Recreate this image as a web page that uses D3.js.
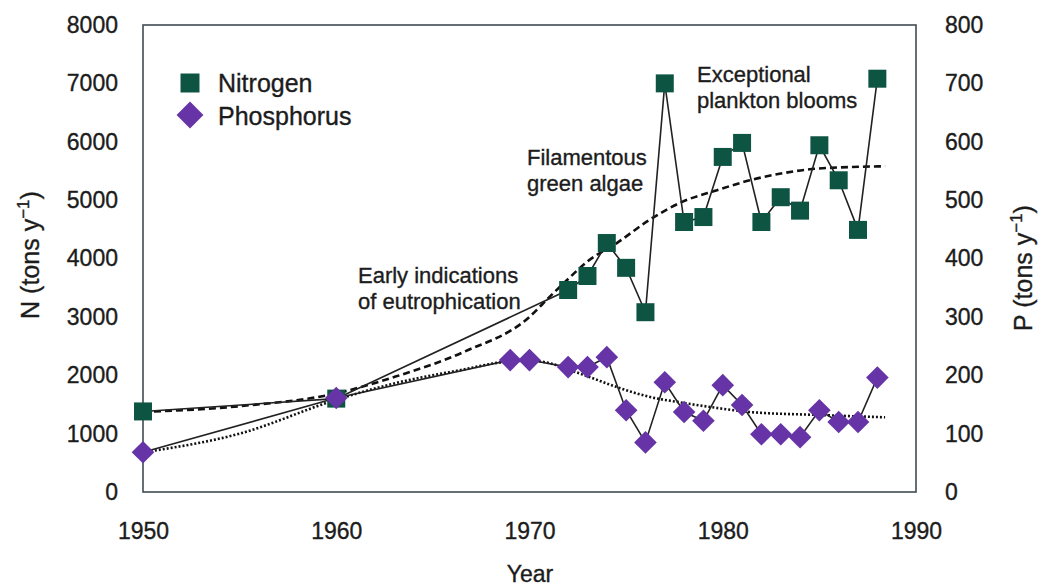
<!DOCTYPE html>
<html>
<head>
<meta charset="utf-8">
<script src="https://cdn.jsdelivr.net/npm/d3@7"></script>
<style>
  body { margin: 0; background: #fff; }
  svg { display: block; font-family: "Liberation Sans", Arial, Helvetica, sans-serif; }
  svg text { fill: #1c1c1c; stroke: #1c1c1c; stroke-width: 0.35px; }
</style>
</head>
<body>
<svg width="1042" height="586"></svg>
<script>
var nYears = [1950, 1960, 1972, 1973, 1974, 1975, 1976, 1977, 1978, 1979, 1980, 1981, 1982, 1983, 1984, 1985, 1986, 1987, 1988];
var nValues = [1380, 1600, 3460, 3700, 4265, 3840, 3080, 7000, 4625, 4710, 5740, 5980, 4625, 5050, 4820, 5940, 5340, 4490, 7080];

var pYears = [1950, 1960, 1969, 1970, 1972, 1973, 1974, 1975, 1976, 1977, 1978, 1979, 1980, 1981, 1982, 1983, 1984, 1985, 1986, 1987, 1988];
var pValues = [68, 161, 226, 226, 214, 214, 231, 140, 85, 188, 137, 122, 183, 149, 99, 99, 94, 140, 120, 120, 196];

// fitted trend curves
var nTrendYears = [1950, 1955, 1960, 1963, 1966.6, 1970, 1971, 1972, 1973, 1974.5, 1976.2, 1977.9, 1979.7, 1981.4, 1983.1, 1984.9, 1988.4];
var nTrendValues = [1370, 1470, 1690, 1970, 2400, 3000, 3330, 3650, 3950, 4260, 4660, 4970, 5170, 5340, 5460, 5540, 5580];

var pTrendYears = [1950, 1955, 1960, 1963, 1966.6, 1968.5, 1970, 1971, 1972, 1973.1, 1974.5, 1976.2, 1977.9, 1979.7, 1981.4, 1984.9, 1988.4];
var pTrendValues = [68, 100, 158, 186, 210, 222, 225, 221, 210, 197, 180, 163, 153, 144, 137, 132, 128];

var xTicks = [1950, 1960, 1970, 1980, 1990];
var nTicks = [0, 1000, 2000, 3000, 4000, 5000, 6000, 7000, 8000];
var pTicks = [0, 100, 200, 300, 400, 500, 600, 700, 800];

var notes = [
  { lines: ["Early indications", "of eutrophication"], x: 358, y: 283 },
  { lines: ["Filamentous", "green algae"], x: 527, y: 165 },
  { lines: ["Exceptional", "plankton blooms"], x: 697, y: 82 }
];

var green = "#0e5443", purple = "#6634a6";

var svg = d3.select("svg"),
    plotL = 143, plotR = 916, plotT = 25, plotB = 492;

var x = d3.scaleLinear().domain([1950, 1990]).range([plotL, plotR]);
var yN = d3.scaleLinear().domain([0, 8000]).range([plotB, plotT]);
var yP = d3.scaleLinear().domain([0, 800]).range([plotB, plotT]);

// frame
svg.append("rect")
    .attr("x", plotL).attr("y", plotT)
    .attr("width", plotR - plotL).attr("height", plotB - plotT)
    .style("fill", "none").style("stroke", "#3f4b52").style("stroke-width", 1.6);

// axes: labels only, no ticks
function styleAxis(g) {
  g.select(".domain").remove();
  g.selectAll("text").style("font-size", "23px")
      .style("font-family", "Liberation Sans, Arial, sans-serif");
}
svg.append("g").attr("transform", "translate(" + plotL + ",0)")
    .call(d3.axisLeft(yN).tickValues(nTicks).tickSize(0).tickPadding(25).tickFormat(d3.format("d")))
    .call(styleAxis);
svg.append("g").attr("transform", "translate(" + plotR + ",0)")
    .call(d3.axisRight(yP).tickValues(pTicks).tickSize(0).tickPadding(29).tickFormat(d3.format("d")))
    .call(styleAxis);
svg.append("g").attr("transform", "translate(0," + plotB + ")")
    .call(d3.axisBottom(x).tickValues(xTicks).tickSize(0).tickPadding(31).tickFormat(d3.format("d")))
    .call(styleAxis);

// axis titles
function axisTitle(label, tx, ty) {
  var t = svg.append("text")
      .attr("transform", "translate(" + tx + "," + ty + ") rotate(-90)")
      .attr("text-anchor", "middle")
      .style("font-size", "25px");
  t.append("tspan").text(label + " (tons y");
  t.append("tspan").attr("dy", "-10").style("font-size", "17px").text("\u22121");
  t.append("tspan").attr("dy", "10").text(")");
}
axisTitle("N", 39, 255);
axisTitle("P", 1032, 268);

svg.append("text").attr("x", 530).attr("y", 582).attr("text-anchor", "middle")
    .style("font-size", "23px").text("Year");

// trend curves
var nTrend = nTrendYears.map(function(d, i) { return [d, nTrendValues[i]]; });
var pTrend = pTrendYears.map(function(d, i) { return [d, pTrendValues[i]]; });

svg.append("path")
    .attr("d", d3.line().curve(d3.curveMonotoneX).x(function(d) { return x(d[0]); }).y(function(d) { return yN(d[1]); })(nTrend))
    .style("fill", "none").style("stroke", "#111").style("stroke-width", 2.6).style("stroke-dasharray", "7,4");
svg.append("path")
    .attr("d", d3.line().curve(d3.curveMonotoneX).x(function(d) { return x(d[0]); }).y(function(d) { return yP(d[1]); })(pTrend))
    .style("fill", "none").style("stroke", "#111").style("stroke-width", 2.6).style("stroke-dasharray", "2,2");

// connecting lines
var nData = nYears.map(function(d, i) { return [d, nValues[i]]; });
var pData = pYears.map(function(d, i) { return [d, pValues[i]]; });

svg.append("path")
    .attr("d", d3.line().x(function(d) { return x(d[0]); }).y(function(d) { return yN(d[1]); })(nData))
    .style("fill", "none").style("stroke", "#222").style("stroke-width", 1.6);
svg.append("path")
    .attr("d", d3.line().x(function(d) { return x(d[0]); }).y(function(d) { return yP(d[1]); })(pData))
    .style("fill", "none").style("stroke", "#222").style("stroke-width", 1.6);

// markers
var sq = d3.symbol().type(d3.symbolSquare).size(18 * 18);
var dia = d3.symbol().type(d3.symbolSquare).size(16 * 16);

svg.selectAll(".n-pt").data(nData).enter().append("path")
    .attr("class", "n-pt")
    .attr("transform", function(d) { return "translate(" + x(d[0]) + "," + yN(d[1]) + ")"; })
    .attr("d", sq)
    .style("fill", green);

svg.selectAll(".p-pt").data(pData).enter().append("path")
    .attr("class", "p-pt")
    .attr("transform", function(d) { return "translate(" + x(d[0]) + "," + yP(d[1]) + ") rotate(45)"; })
    .attr("d", dia)
    .style("fill", purple);

// legend
var legend = svg.append("g");
legend.append("path").attr("transform", "translate(190,83)")
    .attr("d", d3.symbol().type(d3.symbolSquare).size(19 * 19)).style("fill", green);
legend.append("path").attr("transform", "translate(190,115) rotate(45)")
    .attr("d", d3.symbol().type(d3.symbolSquare).size(19 * 19)).style("fill", purple);
legend.append("text").attr("x", 218).attr("y", 83).attr("dy", "0.35em")
    .style("font-size", "25px").text("Nitrogen");
legend.append("text").attr("x", 218).attr("y", 116).attr("dy", "0.35em")
    .style("font-size", "25px").text("Phosphorus");

// annotations
notes.forEach(function(n) {
  var t = svg.append("text").attr("x", n.x).attr("y", n.y)
      .style("font-size", "22px");
  n.lines.forEach(function(l, i) {
    t.append("tspan").attr("x", n.x).attr("dy", i ? 26 : 0).text(l);
  });
});
</script>
</body>
</html>
